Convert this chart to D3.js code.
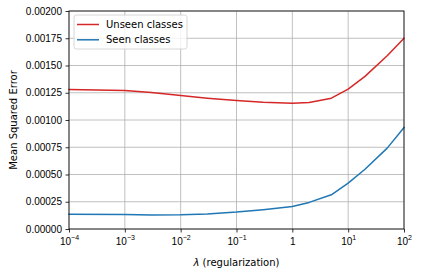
<!DOCTYPE html>
<html>
<head>
<meta charset="utf-8">
<script src="https://cdn.jsdelivr.net/npm/d3@7"></script>
<style>
  body { margin: 0; background: #fff; }
  svg { display: block; font-family: "DejaVu Sans", sans-serif; }
  .grid line { stroke: #b0b0b0; stroke-width: 0.8; }
  .axis path, .axis line { stroke: #000; stroke-width: 0.8; }
  .axis text { font-size: 10px; fill: #000; }
</style>
</head>
<body>
<div id="chart"></div>
<script>
// regularization values
const lambdas = [1e-4, 1e-3, 3e-3, 1e-2, 3e-2, 1e-1, 0.3, 1, 2, 5, 10, 20, 50, 100];
const unseenMSE = [0.00128, 0.00127, 0.001252, 0.001224, 0.0012, 0.001178, 0.001163, 0.001154, 0.00116, 0.0012, 0.001283, 0.001400, 0.00159, 0.00175];
const seenMSE = [0.000135, 0.000132, 0.000129, 0.00013, 0.000138, 0.000155, 0.000177, 0.000207, 0.000244, 0.000314, 0.000421, 0.000548, 0.000742, 0.000931];
const xTicks = [1e-4, 1e-3, 1e-2, 1e-1, 1, 10, 100];
const yTicks = [0, 0.00025, 0.0005, 0.00075, 0.001, 0.00125, 0.0015, 0.00175, 0.002];
const seriesNames = ["Unseen classes", "Seen classes"];
const seriesColors = ["#d62728", "#1f77b4"];

const width = 421, height = 277;
const margin = { left: 69, right: 17, top: 11, bottom: 48 };
const plotW = width - margin.left - margin.right;
const plotH = height - margin.top - margin.bottom;

const svg = d3.select("#chart").append("svg")
  .attr("width", width)
  .attr("height", height);

const x = d3.scaleLog().domain([1e-4, 100]).range([0, plotW]);
const y = d3.scaleLinear().domain([0, 0.002]).range([plotH, 0]);

const g = svg.append("g")
  .attr("transform", "translate(" + margin.left + "," + margin.top + ")");

// grid
g.append("g").attr("class", "grid")
  .selectAll("line.v").data(xTicks).enter().append("line")
  .attr("x1", d => x(d)).attr("x2", d => x(d))
  .attr("y1", 0).attr("y2", plotH);
g.append("g").attr("class", "grid")
  .selectAll("line.h").data(yTicks).enter().append("line")
  .attr("x1", 0).attr("x2", plotW)
  .attr("y1", d => y(d)).attr("y2", d => y(d));

// lines
const line = d3.line()
  .x((d, i) => x(lambdas[i]))
  .y(d => y(d));

[unseenMSE, seenMSE].forEach((vals, k) => {
  g.append("path")
    .attr("d", line(vals))
    .attr("fill", "none")
    .attr("stroke", seriesColors[k])
    .attr("stroke-width", 1.5)
    .attr("stroke-linejoin", "round")
    .attr("stroke-linecap", "square");
});

// axes
const yAxis = d3.axisLeft(y).tickValues(yTicks).tickSize(3.5).tickPadding(3.5)
  .tickFormat(d => d.toFixed(5));
g.append("g").attr("class", "axis").call(yAxis);

const xAxis = d3.axisBottom(x).tickValues(xTicks).tickSize(3.5).tickPadding(5)
  .tickFormat("");
const xg = g.append("g").attr("class", "axis")
  .attr("transform", "translate(0," + plotH + ")")
  .call(xAxis);
xg.selectAll(".tick").each(function(d) {
  const e = Math.round(Math.log10(d));
  const t = d3.select(this).select("text").attr("y", 16).attr("dy", null);
  if (e === 0) {
    t.text("1");
  } else {
    t.append("tspan").text("10");
    t.append("tspan").attr("dy", -5).attr("font-size", "7px")
      .text((e < 0 ? "\u2212" : "") + Math.abs(e));
  }
});
g.selectAll(".axis .domain").remove();

// frame
g.append("rect")
  .attr("width", plotW).attr("height", plotH)
  .attr("fill", "none").attr("stroke", "#000").attr("stroke-width", 0.8);

// axis labels
svg.append("text")
  .attr("x", margin.left + plotW / 2).attr("y", 266)
  .attr("text-anchor", "middle").attr("font-size", 10)
  .html('<tspan font-style="italic">\u03bb</tspan> (regularization)');
svg.append("text")
  .attr("transform", "translate(16.5," + (margin.top + plotH / 2) + ") rotate(-90)")
  .attr("text-anchor", "middle").attr("font-size", 10)
  .text("Mean Squared Error");

// legend
const leg = g.append("g").attr("transform", "translate(5,4)");
leg.append("rect")
  .attr("width", 113).attr("height", 34).attr("rx", 2.5)
  .attr("fill", "#fff").attr("fill-opacity", 0.8)
  .attr("stroke", "#cccccc").attr("stroke-width", 0.8);
seriesNames.forEach((name, i) => {
  const yy = 9.5 + i * 15.3;
  leg.append("line")
    .attr("x1", 3).attr("x2", 25).attr("y1", yy).attr("y2", yy)
    .attr("stroke", seriesColors[i]).attr("stroke-width", 1.5);
  leg.append("text")
    .attr("x", 32).attr("y", yy + 3.6)
    .attr("font-size", 10)
    .text(name);
});
</script>
</body>
</html>
